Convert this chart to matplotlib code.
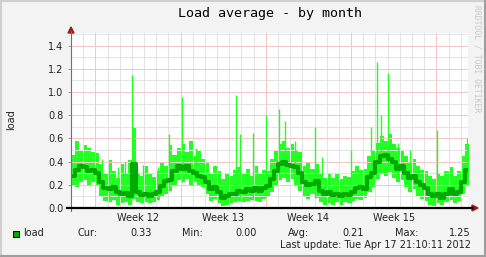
import matplotlib
matplotlib.use('Agg')
import matplotlib.pyplot as plt
import numpy as np
from matplotlib.patches import Polygon, Rectangle
from matplotlib.lines import Line2D

W, H = 486, 257

# load average sampled every 8 hours (x in days from the first midnight shown)
load_avg = [0.28, 0.33, 0.36, 0.35, 0.32, 0.33, 0.30,
            0.22, 0.17, 0.16, 0.18, 0.14, 0.12, 0.13, 0.10,
            0.38, 0.14, 0.11, 0.12, 0.10, 0.12, 0.14, 0.19, 0.23, 0.24,
            0.32, 0.36, 0.34, 0.36, 0.32, 0.30, 0.28, 0.27, 0.22, 0.16,
            0.18, 0.14, 0.09, 0.10, 0.12, 0.12, 0.15, 0.14, 0.16, 0.15,
            0.17, 0.15, 0.17, 0.19, 0.25, 0.32, 0.38, 0.40, 0.37, 0.36,
            0.35, 0.30, 0.22, 0.20, 0.21, 0.23, 0.15, 0.12, 0.14, 0.11,
            0.12, 0.10, 0.12, 0.11, 0.14, 0.17, 0.18, 0.16, 0.27, 0.30,
            0.40, 0.45, 0.46, 0.42, 0.40, 0.34, 0.36, 0.30, 0.26, 0.28,
            0.22, 0.20, 0.17, 0.12, 0.10, 0.12, 0.09, 0.12, 0.16, 0.12,
            0.14, 0.22, 0.33]
load_hi = [0.46, 0.58, 0.50, 0.54, 0.52, 0.48, 0.47,
           0.38, 0.30, 0.41, 0.32, 0.26, 0.38, 0.30, 0.41,
           0.69, 0.30, 0.28, 0.36, 0.30, 0.27, 0.32, 0.40, 0.36, 0.54,
           0.46, 0.52, 0.55, 0.48, 0.58, 0.45, 0.50, 0.42, 0.40, 0.30,
           0.36, 0.32, 0.25, 0.30, 0.28, 0.33, 0.35, 0.30, 0.34, 0.28,
           0.36, 0.30, 0.33, 0.32, 0.42, 0.50, 0.55, 0.58, 0.52, 0.55,
           0.50, 0.48, 0.36, 0.40, 0.34, 0.38, 0.30, 0.26, 0.30, 0.26,
           0.30, 0.25, 0.28, 0.27, 0.32, 0.36, 0.33, 0.34, 0.45, 0.50,
           0.56, 0.62, 0.58, 0.64, 0.55, 0.52, 0.50, 0.45, 0.40, 0.42,
           0.36, 0.33, 0.32, 0.28, 0.25, 0.30, 0.28, 0.32, 0.35, 0.28,
           0.32, 0.45, 0.55]
load_lo = [0.20, 0.18, 0.22, 0.24, 0.20, 0.22, 0.19,
           0.10, 0.06, 0.05, 0.07, 0.03, 0.04, 0.05, 0.03,
           0.08, 0.05, 0.04, 0.05, 0.04, 0.05, 0.07, 0.10, 0.12, 0.15,
           0.20, 0.24, 0.22, 0.25, 0.20, 0.22, 0.19, 0.18, 0.12, 0.06,
           0.08, 0.04, 0.02, 0.03, 0.04, 0.05, 0.06, 0.05, 0.06, 0.07,
           0.06, 0.05, 0.08, 0.10, 0.14, 0.20, 0.24, 0.26, 0.22, 0.25,
           0.20, 0.15, 0.10, 0.08, 0.12, 0.09, 0.05, 0.03, 0.04, 0.03,
           0.05, 0.03, 0.05, 0.04, 0.06, 0.08, 0.07, 0.09, 0.14, 0.18,
           0.25, 0.30, 0.28, 0.31, 0.26, 0.22, 0.24, 0.18, 0.14, 0.16,
           0.10, 0.08, 0.06, 0.03, 0.02, 0.04, 0.03, 0.05, 0.07, 0.04,
           0.06, 0.12, 0.20]

# short peaks sticking out of the max band
spike_day = [2.55, 3.12, 3.86, 4.43, 5.04, 5.17, 5.91, 7.14, 8.05, 9.11,
             10.26, 13.55, 13.88, 14.94, 16.04, 17.08, 17.57, 18.39, 20.06,
             20.61, 22.96, 24.63, 25.12, 25.45, 26.06, 26.85, 27.83, 30.06, 32.5]
spike_val = [0.42, 0.38, 0.35, 0.40, 1.15, 0.69, 0.37, 0.35, 0.64, 0.96,
             0.52, 0.97, 0.64, 0.65, 0.80, 0.85, 0.75, 0.58, 0.70,
             0.44, 0.50, 0.70, 1.26, 0.80, 1.16, 0.56, 0.50, 0.67, 0.60]

week_starts = [2, 9, 16, 23, 30]
week_labels = ['Week 12', 'Week 13', 'Week 14', 'Week 15']
y_major = [0.0, 0.2, 0.4, 0.6, 0.8, 1.0, 1.2, 1.4]

legend_names = ['Cur:', 'Min:', 'Avg:', 'Max:']
legend_values = [0.33, 0.00, 0.21, 1.25]
last_update = 'Last update: Tue Apr 17 21:10:11 2012'

band_color = '#22ff22'
avg_color = '#00aa00'
arrow_color = '#9b1b1b'
minor_grid = '#e3e3e3'
major_grid = '#f5c6c6'


def fx(px):
    return px / W


def fy(py):
    return 1 - py / H


fig = plt.figure(figsize=(W / 100, H / 100), dpi=100, facecolor='#f3f3f3')

# 3d-ish frame
fig.add_artist(Line2D([0, 1], [fy(0.5), fy(0.5)], transform=fig.transFigure, color='#cfcfcf', lw=1.5))
fig.add_artist(Line2D([fx(0.5), fx(0.5)], [0, 1], transform=fig.transFigure, color='#cfcfcf', lw=1.5))
fig.add_artist(Line2D([0, 1], [fy(256), fy(256)], transform=fig.transFigure, color='#9e9e9e', lw=1.5))
fig.add_artist(Line2D([fx(485), fx(485)], [0, 1], transform=fig.transFigure, color='#9e9e9e', lw=1.5))

ax = fig.add_axes([fx(71), fy(208), 397 / W, 175 / H])
ax.set_facecolor('white')

n = len(load_avg)
edges = np.arange(n + 1) / 3.0
lo = np.append(load_lo, load_lo[-1])
hi = np.append(load_hi, load_hi[-1])
avg = np.append(load_avg, load_avg[-1])

ax.fill_between(edges, lo, hi, step='post', color=band_color, lw=0, zorder=1)
spike_base = [load_lo[min(int(d * 3), n - 1)] for d in spike_day]
ax.vlines(spike_day, spike_base, spike_val, color=band_color, lw=1.0, zorder=3.5)
ax.step(edges, avg, where='post', color=avg_color, lw=3.0, zorder=4)

ax.set_xlim(0, 32.6)
ax.set_ylim(0, 1.508)

# grid: gray every day / 0.1, red every week / 0.2 (over the band like rrdtool)
grid_kw = dict(lw=0.72, snap=True)
for d in range(1, 33):
    ax.axvline(d, color=minor_grid, zorder=3, **grid_kw)
for v in np.arange(0.1, 1.55, 0.1):
    ax.axhline(v, color=minor_grid, zorder=3, **grid_kw)
for w in week_starts:
    ax.axvline(w, color=major_grid, zorder=3.1, **grid_kw)
for v in y_major[1:]:
    ax.axhline(v, color=major_grid, zorder=3.1, **grid_kw)

for s in ax.spines.values():
    s.set_visible(False)

ax.set_yticks(y_major, [f'{v:.1f}' for v in y_major])
ax.tick_params(axis='y', length=2.5, width=0.7, color='#a0a0a0', labelsize=7, pad=3,
               labelcolor='#222222')
week_mid = [w + 3.5 for w in week_starts[:-1]]
ax.set_xticks(week_mid, week_labels)
ax.tick_params(axis='x', length=0, labelsize=7, pad=3.5, labelcolor='#222222')

# axis lines and arrows
fig.add_artist(Line2D([fx(71), fx(71)], [fy(211), fy(31)], transform=fig.transFigure,
                      color='#707070', lw=0.8))
fig.add_artist(Line2D([fx(67), fx(473)], [fy(208), fy(208)], transform=fig.transFigure,
                      color='black', lw=1.6))
fig.add_artist(Polygon([[fx(68), fy(33)], [fx(74), fy(33)], [fx(71), fy(27)]],
                       closed=True, transform=fig.transFigure, color=arrow_color))
fig.add_artist(Polygon([[fx(472), fy(205)], [fx(472), fy(211)], [fx(478), fy(208)]],
                       closed=True, transform=fig.transFigure, color=arrow_color))

fig.text(fx(270), fy(14), 'Load average - by month', family='DejaVu Sans Mono',
         fontsize=9.6, ha='center', va='center')
fig.text(fx(11), fy(120), 'load', rotation=90, fontsize=7, ha='center', va='center',
         color='#222222')
fig.text(fx(477), fy(59), 'RRDTOOL / TOBI OETIKER', rotation=270, family='DejaVu Sans Mono',
         fontsize=5.8, ha='center', va='center', color='#c8c8c8')

# legend row
fig.add_artist(Rectangle((fx(13), fy(237)), 6 / W, 6 / H, transform=fig.transFigure,
                         facecolor=avg_color, edgecolor='black', lw=0.7))
fig.text(fx(23), fy(233), 'load', fontsize=7, va='center', color='#222222')
name_x = [77, 182, 288, 395]
value_x = [152, 257, 364, 471]
for name, val, nx, vx in zip(legend_names, legend_values, name_x, value_x):
    fig.text(fx(nx), fy(233), name, fontsize=7, va='center', color='#222222')
    fig.text(fx(vx), fy(233), f'{val:.2f}', fontsize=7, va='center', ha='right', color='#222222')
fig.text(fx(471), fy(245), last_update, fontsize=7, va='center', ha='right', color='#222222')

fig.savefig('out.png', dpi=100, facecolor=fig.get_facecolor())
